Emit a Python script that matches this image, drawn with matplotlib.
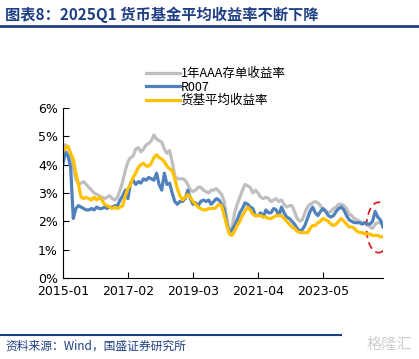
import numpy as np
import matplotlib
matplotlib.use('Agg')
import matplotlib.pyplot as plt
from matplotlib.patches import Ellipse

plt.rcParams['font.family'] = ['DejaVu Sans', 'Noto Sans CJK SC']

################## data (monthly, 2015-01 .. 2025-04) ##################
cd_aaa_1y = [4.6, 4.7, 4.6, 4.3, 3.9, 3.5, 3.3, 3.35, 3.4, 3.3, 3.2, 3.1,
             3.0, 2.95, 2.9, 2.85, 2.8, 2.85, 2.9, 2.8, 2.75, 2.85, 3.1, 3.4,
             3.8, 4.1, 4.25, 4.3, 4.55, 4.6, 4.45, 4.55, 4.7, 4.75, 4.85, 5.05,
             4.9, 4.85, 4.8, 4.55, 4.4, 4.5, 4.1, 3.6, 3.5, 3.5, 3.5, 3.45,
             3.3, 3.1, 3.05, 3.1, 3.2, 3.2, 3.1, 3.05, 3.0, 3.1, 3.1, 3.15,
             3.05, 2.95, 2.7, 2.1, 1.65, 1.75, 2.3, 2.6, 2.85, 3.1, 3.3, 3.25,
             3.2, 3.0, 3.1, 3.0, 2.85, 2.8, 2.85, 2.8, 2.7, 2.75, 2.8, 2.7,
             2.75, 2.6, 2.5, 2.55, 2.55, 2.35, 2.1, 2.0, 2.05, 2.3, 2.5, 2.6,
             2.65, 2.7, 2.65, 2.55, 2.4, 2.35, 2.3, 2.35, 2.45, 2.5, 2.6, 2.6,
             2.55, 2.45, 2.25, 2.2, 2.1, 2.05, 2.0, 1.95, 1.95, 1.9, 1.8, 1.75,
             1.9, 1.95, 1.95, 1.95]

r007 = [4.0, 4.45, 4.3, 3.9, 2.1, 2.45, 2.55, 2.5, 2.45, 2.4, 2.4, 2.45,
        2.4, 2.5, 2.45, 2.45, 2.5, 2.45, 2.5, 2.5, 2.55, 2.55, 2.75, 2.9,
        3.1, 2.8, 3.35, 3.45, 3.3, 3.4, 3.35, 3.5, 3.45, 3.55, 3.5, 3.45,
        3.7, 3.3, 3.1, 3.7, 3.3, 3.35, 3.0, 2.7, 2.6, 2.7, 2.7, 2.8,
        3.1, 2.8, 2.6, 2.65, 2.55, 2.7, 2.75, 2.7, 2.75, 2.6, 2.7, 2.8,
        2.75, 2.6, 2.4, 1.9, 1.6, 1.7, 1.85, 2.05, 2.3, 2.45, 2.65, 2.6,
        2.5, 2.45, 2.2, 2.2, 2.3, 2.15, 2.4, 2.3, 2.3, 2.45, 2.4, 2.2,
        2.5, 2.3, 2.15, 2.1, 2.0, 1.9, 1.75, 1.65, 1.7, 1.85, 2.1, 2.35,
        2.5, 2.3, 2.2, 2.35, 2.45, 2.35, 2.2, 2.15, 2.2, 2.35, 2.45, 2.5,
        2.4, 2.2, 2.05, 2.0, 1.95, 1.95, 1.95, 1.9, 1.95, 1.9, 1.9, 2.0,
        2.35, 2.15, 2.05, 1.8]

mmf_yield = [4.45, 4.6, 4.65, 4.4, 4.2, 3.7, 3.3, 2.85, 2.8, 2.85, 2.8, 2.75,
             2.85, 2.75, 2.85, 2.75, 2.6, 2.55, 2.5, 2.45, 2.5, 2.45, 2.5, 2.55,
             2.9, 3.15, 3.3, 3.55, 3.7, 3.9, 4.0, 4.05, 3.95, 3.95, 4.05, 4.25,
             4.35, 4.25, 4.2, 4.1, 3.95, 3.85, 3.8, 3.5, 3.15, 2.9, 2.75, 2.85,
             2.95, 2.85, 2.7, 2.6, 2.5, 2.45, 2.4, 2.4, 2.45, 2.45, 2.45, 2.5,
             2.6, 2.55, 2.2, 1.85, 1.55, 1.5, 1.65, 1.85, 2.0, 2.2, 2.35, 2.5,
             2.4, 2.25, 2.2, 2.2, 2.2, 2.15, 2.15, 2.1, 2.1, 2.15, 2.2, 2.2,
             2.2, 2.1, 2.0, 1.9, 1.8, 1.75, 1.65, 1.6, 1.6, 1.6, 1.6, 1.75,
             1.85, 1.85, 1.95, 2.0, 2.1, 2.05, 2.0, 1.9, 1.85, 1.9, 2.0, 2.1,
             2.0, 1.9, 1.8, 1.8, 1.75, 1.65, 1.6, 1.6, 1.55, 1.55, 1.55, 1.5,
             1.5, 1.5, 1.45, 1.45]

tick_labels = ['2015-01', '2017-02', '2019-03', '2021-04', '2023-05']
labels = ['1年AAA存单收益率', 'R007', '货基平均收益率']

################## figure ##################
navy = '#1F3F84'
fig = plt.figure(figsize=(4.19, 3.59), dpi=100)
ax = fig.add_axes([0.150, 0.226, 0.764, 0.473])

x = np.arange(len(mmf_yield))
ax.plot(x, cd_aaa_1y, color='#BFBFBF', lw=2.3, label=labels[0])
ax.plot(x, r007, color='#4F81BD', lw=2.3, label=labels[1])
ax.plot(x, mmf_yield, color='#FFC000', lw=2.3, label=labels[2])

# highlight the latest months
ax.add_patch(Ellipse((121.3, 1.78), 9.3, 1.78, fill=False, ec='#E02020',
                     ls=(0, (4, 2.5)), lw=1.3))

ax.set_xlim(0, 123)
ax.set_ylim(0, 6)
ax.set_xticks([0, 25, 50, 75, 100])
ax.set_xticklabels(tick_labels)
ax.set_yticks(np.arange(0, 7))
ax.set_yticklabels([f'{v}%' for v in range(7)])
ax.tick_params(direction='in', length=4, labelsize=9, colors='black')
ax.tick_params(axis='x', pad=5)
for s in ['top', 'right']:
    ax.spines[s].set_visible(False)

fig.legend(loc='upper left', bbox_to_anchor=(0.336, 0.826), frameon=False,
           prop={'family': ['Noto Sans CJK SC', 'DejaVu Sans'], 'size': 9},
           handlelength=2.7, handletextpad=0.1, labelspacing=0.02,
           borderaxespad=0)

################## title / footer ##################
fig.text(0.012, 0.958, '图表8：2025Q1 货币基金平均收益率不断下降', color=navy,
         fontsize=11, fontweight='bold', style='italic',
         family=['Noto Sans CJK SC', 'DejaVu Sans'], va='center')
fig.add_artist(plt.Line2D([0, 1], [0.927, 0.927], color=navy, lw=2))
fig.add_artist(plt.Line2D([0, 0.815], [0.067, 0.067], color=navy, lw=1.5))
fig.text(0.012, 0.035, '资料来源：Wind，国盛证券研究所', color=navy, fontsize=8.5,
         style='italic', family=['Noto Sans CJK SC', 'DejaVu Sans'], va='center')
fig.text(0.985, 0.04, '格隆汇', color='#D0D0D0', fontsize=11, ha='right',
         va='center', family=['Noto Sans CJK SC', 'DejaVu Sans'])

fig.savefig('out.png', dpi=100)
